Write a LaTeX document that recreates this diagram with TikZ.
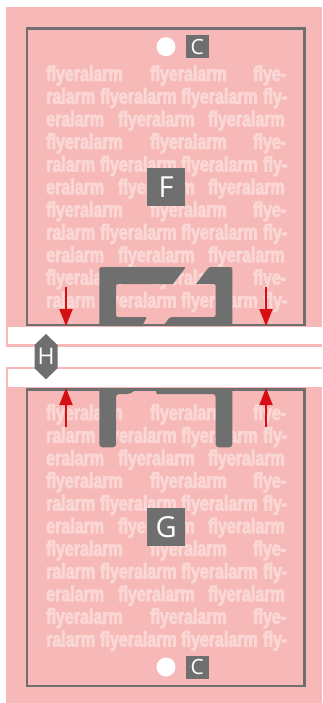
\documentclass[tikz,border=0pt]{standalone}
\usepackage{fontspec}
\usetikzlibrary{arrows.meta,calc,positioning}
\setmainfont{Open Sans}
\newfontfamily\flyerfont[UprightFont={* Bold},FakeStretch=0.745,FakeBold=3.6]{Liberation Sans}
\definecolor{sheetpink}{HTML}{F6B9B7}
\definecolor{wordpink}{HTML}{FAD6D4}
\definecolor{toolgray}{HTML}{6F6F6F}
\definecolor{pressred}{HTML}{D50F14}

\begin{document}
\begin{tikzpicture}[x=1pt,y=-1pt,>=Stealth]
  % --- Unified styles ---
  \tikzset{
    sheet/.style    = {fill=sheetpink,draw=none},
    cutout/.style   = {fill=white,draw=none},
    word/.style     = {anchor=base west,inner sep=0pt,text=wordpink,font=\flyerfont\fontsize{21.5}{21.5}\selectfont},
    frameline/.style= {draw=toolgray,line width=2.4pt},
    profile/.style  = {fill=toolgray,draw=none,rounded corners=1.5pt},
    letterbox/.style= {fill=toolgray,text=white,inner sep=0pt,font=\fontsize{29}{29}\selectfont},
    sidebox/.style  = {fill=toolgray,text=white,inner sep=0pt,minimum width=22.7pt,minimum height=23pt,font=\fontsize{21}{21}\selectfont},
    hole/.style     = {circle,fill=white,inner sep=0pt,minimum size=19pt},
    press/.style    = {-{Triangle[length=17pt,width=13pt]},draw=pressred,fill=pressred,line width=2pt}
  }
  \useasboundingbox (0,0) rectangle (322,703);

  % --- Two sheets and the white bands ---
  \fill[sheet] (6,7) rectangle (322,346.7);
  \fill[sheet] (6,366.7) rectangle (322,703);
  \fill[cutout] (7.7,326.7) rectangle (322,344.3);
  \fill[cutout] (7.7,369.3) rectangle (322,386.7);

  % --- Repeating print, three line patterns ---
  \newcommand{\rowA}[2]{
    \node[word] (a#2x) at (46,#1) {flyeralarm};
    \node[word] (a#2y) at (150,#1) {flyeralarm};
    \node[word] (a#2z) at (253,#1) {flye-};
  }
  \newcommand{\rowB}[2]{
    \node[word] (b#2w) at (46,#1) {ralarm};
    \node[word] (b#2x) at (100,#1) {flyeralarm};
    \node[word] (b#2y) at (181,#1) {flyeralarm};
    \node[word] (b#2z) at (263,#1) {fly-};
  }
  \newcommand{\rowC}[2]{
    \node[word] (c#2x) at (46,#1) {eralarm};
    \node[word] (c#2y) at (118,#1) {flyeralarm};
    \node[word] (c#2z) at (208,#1) {flyeralarm};
  }
  \foreach \base/\tag in {81/u,420/l}{
    \foreach \n in {0,3,6,9}{
      \pgfmathsetmacro{\ya}{\base+22.65*\n}
      \rowA{\ya}{\tag\n}
      \pgfmathsetmacro{\yb}{\base+22.65*(\n+1)}
      \rowB{\yb}{\tag\n}
    }
    \foreach \n in {0,3,6}{
      \pgfmathsetmacro{\yc}{\base+22.65*(\n+2)}
      \rowC{\yc}{\tag\n}
    }
  }

  % --- Frames ---
  \draw[frameline] (27.2,28.5) rectangle (304.6,325);
  \draw[frameline] (27.2,389.5) rectangle (304.6,685.8);

  % --- Upper profile, two halves ---
  \fill[profile] (99.3,326) -- (99.3,267) -- (186,267) [sharp corners] -- (173,284) [rounded corners=2pt] -- (116,284)
    -- (116,317) -- (147,317) [sharp corners] -- (142,326) -- cycle;
  \fill[profile] (232.3,326) -- (232.3,267) -- (209,267) [sharp corners] -- (196,284) [rounded corners=2pt] -- (215.7,284)
    -- (215.7,317) -- (170,317) -- (163,326) [sharp corners] -- cycle;

  % --- Lower profile ---
  \fill[profile] (99.3,388) [rounded corners=3pt] -- (99.3,447.3) -- (116,447.3) -- (116,394) -- (130,394)
    [sharp corners] -- (136,389.5) -- (155,389.5) -- (157,394) [rounded corners=3pt] -- (215.7,394)
    -- (215.7,447.3) -- (232.3,447.3) [sharp corners] -- (232.3,388) -- cycle;

  % --- Letter marks ---
  \node[letterbox,minimum width=37.7pt,minimum height=37.7pt] (markF) at (166.2,186.9) {F};
  \node[letterbox,minimum width=37.7pt,minimum height=37.7pt] (markG) at (166.2,527.2) {G};
  \node[hole] (holeT) at (166,46.7) {};
  \node[hole] (holeB) at (166,667) {};
  \node[sidebox] (markCt) at (197.3,46.7) {C};
  \node[sidebox] (markCb) at (197.3,667.2) {C};
  \fill[toolgray] (46,334) -- (57.5,345) -- (57.5,368.3) -- (46,379.3) -- (34.5,368.3) -- (34.5,345) -- cycle;
  \node[text=white,inner sep=0pt,font=\fontsize{23}{23}\selectfont] (markH) at (46,356.7) {H};

  % --- Pressing arrows ---
  \coordinate (pressAs) at (66,286.7);
  \coordinate (pressAe) at (66,326);
  \coordinate (pressBs) at (266,286.7);
  \coordinate (pressBe) at (266,326);
  \coordinate (pressCs) at (66,426.7);
  \coordinate (pressCe) at (66,388);
  \coordinate (pressDs) at (266,426.7);
  \coordinate (pressDe) at (266,388);
  \draw[press] (pressAs) -- (pressAe);
  \draw[press] (pressBs) -- (pressBe);
  \draw[press] (pressCs) -- (pressCe);
  \draw[press] (pressDs) -- (pressDe);
\end{tikzpicture}
\end{document}
